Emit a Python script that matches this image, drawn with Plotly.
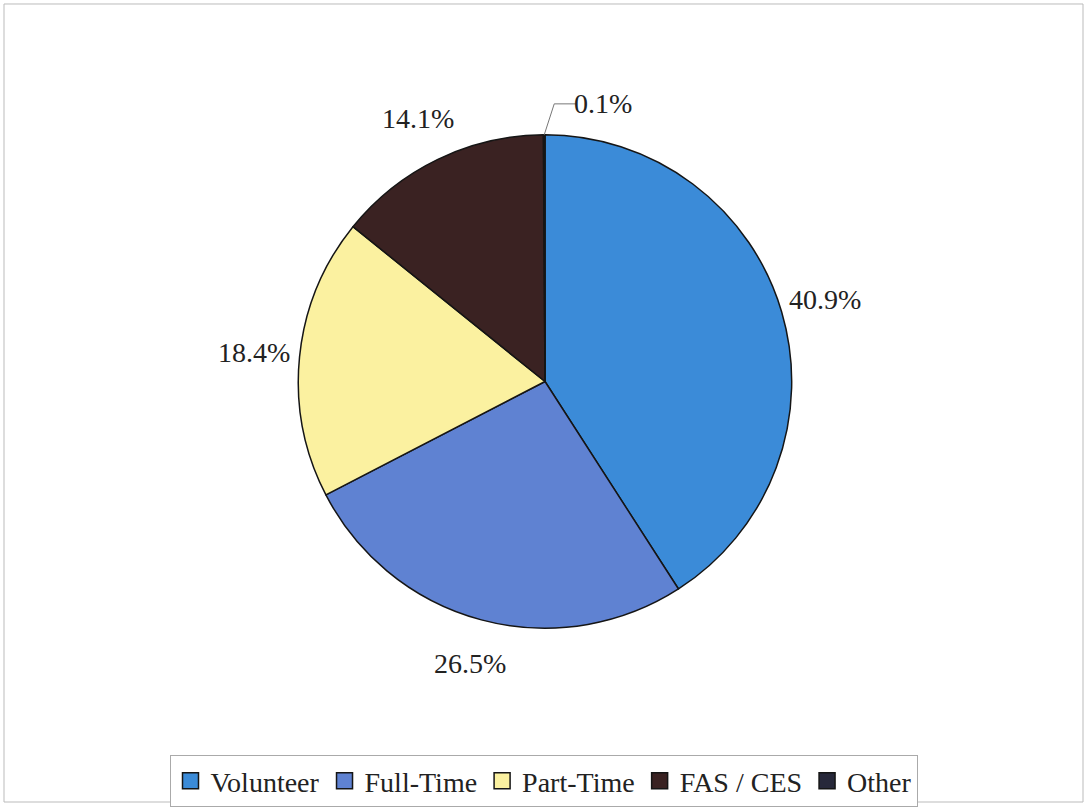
import math
import plotly.graph_objects as go

# Share of staff by employment type (percent)
categories = ["Volunteer", "Full-Time", "Part-Time", "FAS / CES", "Other"]
shares = [40.9, 26.5, 18.4, 14.1, 0.1]
colors = ["#3b8bd8", "#5f82d2", "#fbf1a0", "#3a2222", "#27283a"]

W, H = 1087, 807
CX, CY, R = 545, 382, 247          # pie centre and radius in pixels
FONT = "Liberation Serif, serif"
EDGE = "#151515"
LABEL_SIZE = 28

dom_x = [(CX - R) / W, (CX + R) / W]
dom_y = [(H - CY - R) / H, (H - CY + R) / H]

fig = go.Figure(go.Pie(
    labels=categories,
    values=shares,
    sort=False,
    direction="clockwise",
    rotation=0,
    marker=dict(colors=colors, line=dict(color=EDGE, width=1.5)),
    textinfo="none",
    hoverinfo="label+percent",
    domain=dict(x=dom_x, y=dom_y),
    showlegend=False,
))

# Legend keys: bordered squares in the slice colours
for name, c in zip(categories, colors):
    fig.add_trace(go.Scatter(
        x=[None], y=[None], mode="markers", name=name,
        marker=dict(symbol="square", size=16, color=c, line=dict(color=EDGE, width=1.5)),
        showlegend=True, hoverinfo="skip",
    ))

# Percentage labels placed around the rim at each slice's mid-angle
annotations = []
shapes = []
total = sum(shares)
cum = 0.0
for name, v in zip(categories, shares):
    mid = (cum + v / 2) / total * 2 * math.pi
    cum += v
    txt = f"{v:.1f}%"
    if v / total < 0.01:
        # tiny slice: leader line from the rim to a label off to the side
        x0 = CX + R * math.sin(mid)
        y0 = CY - R * math.cos(mid)
        x1, y1 = x0 + 10, y0 - 31
        x2 = x1 + 22
        shapes.append(dict(type="path", xref="paper", yref="paper",
                           path=f"M {x0/W},{1-y0/H} L {x1/W},{1-y1/H} L {x2/W},{1-y1/H}",
                           line=dict(color="#777777", width=1)))
        annotations.append(dict(x=(x2 - 4) / W, y=1 - y1 / H, xref="paper", yref="paper",
                                text=txt, showarrow=False, xanchor="left", yanchor="middle",
                                font=dict(family=FONT, size=LABEL_SIZE, color="#222222")))
        continue
    rl = R + 45
    lx = CX + rl * math.sin(mid)
    ly = CY - rl * math.cos(mid)
    annotations.append(dict(x=lx / W, y=1 - ly / H, xref="paper", yref="paper",
                            text=txt, showarrow=False, xanchor="center", yanchor="middle",
                            font=dict(family=FONT, size=LABEL_SIZE, color="#222222")))

# Outer chart frame
shapes.append(dict(type="rect", xref="paper", yref="paper",
                   x0=4 / W, x1=1083 / W, y0=1 - 803 / H, y1=1 - 4 / H,
                   line=dict(color="#bbbbbb", width=1)))

fig.update_layout(
    width=W, height=H,
    margin=dict(l=0, r=0, t=0, b=0),
    paper_bgcolor="white",
    plot_bgcolor="white",
    font=dict(family=FONT, size=28, color="#222222"),
    xaxis=dict(visible=False),
    yaxis=dict(visible=False),
    showlegend=True,
    legend=dict(
        orientation="h",
        x=0.5, xanchor="center",
        y=1 - 756 / H, yanchor="top",
        bordercolor="#aaaaaa", borderwidth=1,
        font=dict(family=FONT, size=28, color="#222222"),
        itemwidth=30,
        itemsizing="trace",
        tracegroupgap=0,
    ),
    annotations=annotations,
    shapes=shapes,
)

fig.write_html("out.html")
